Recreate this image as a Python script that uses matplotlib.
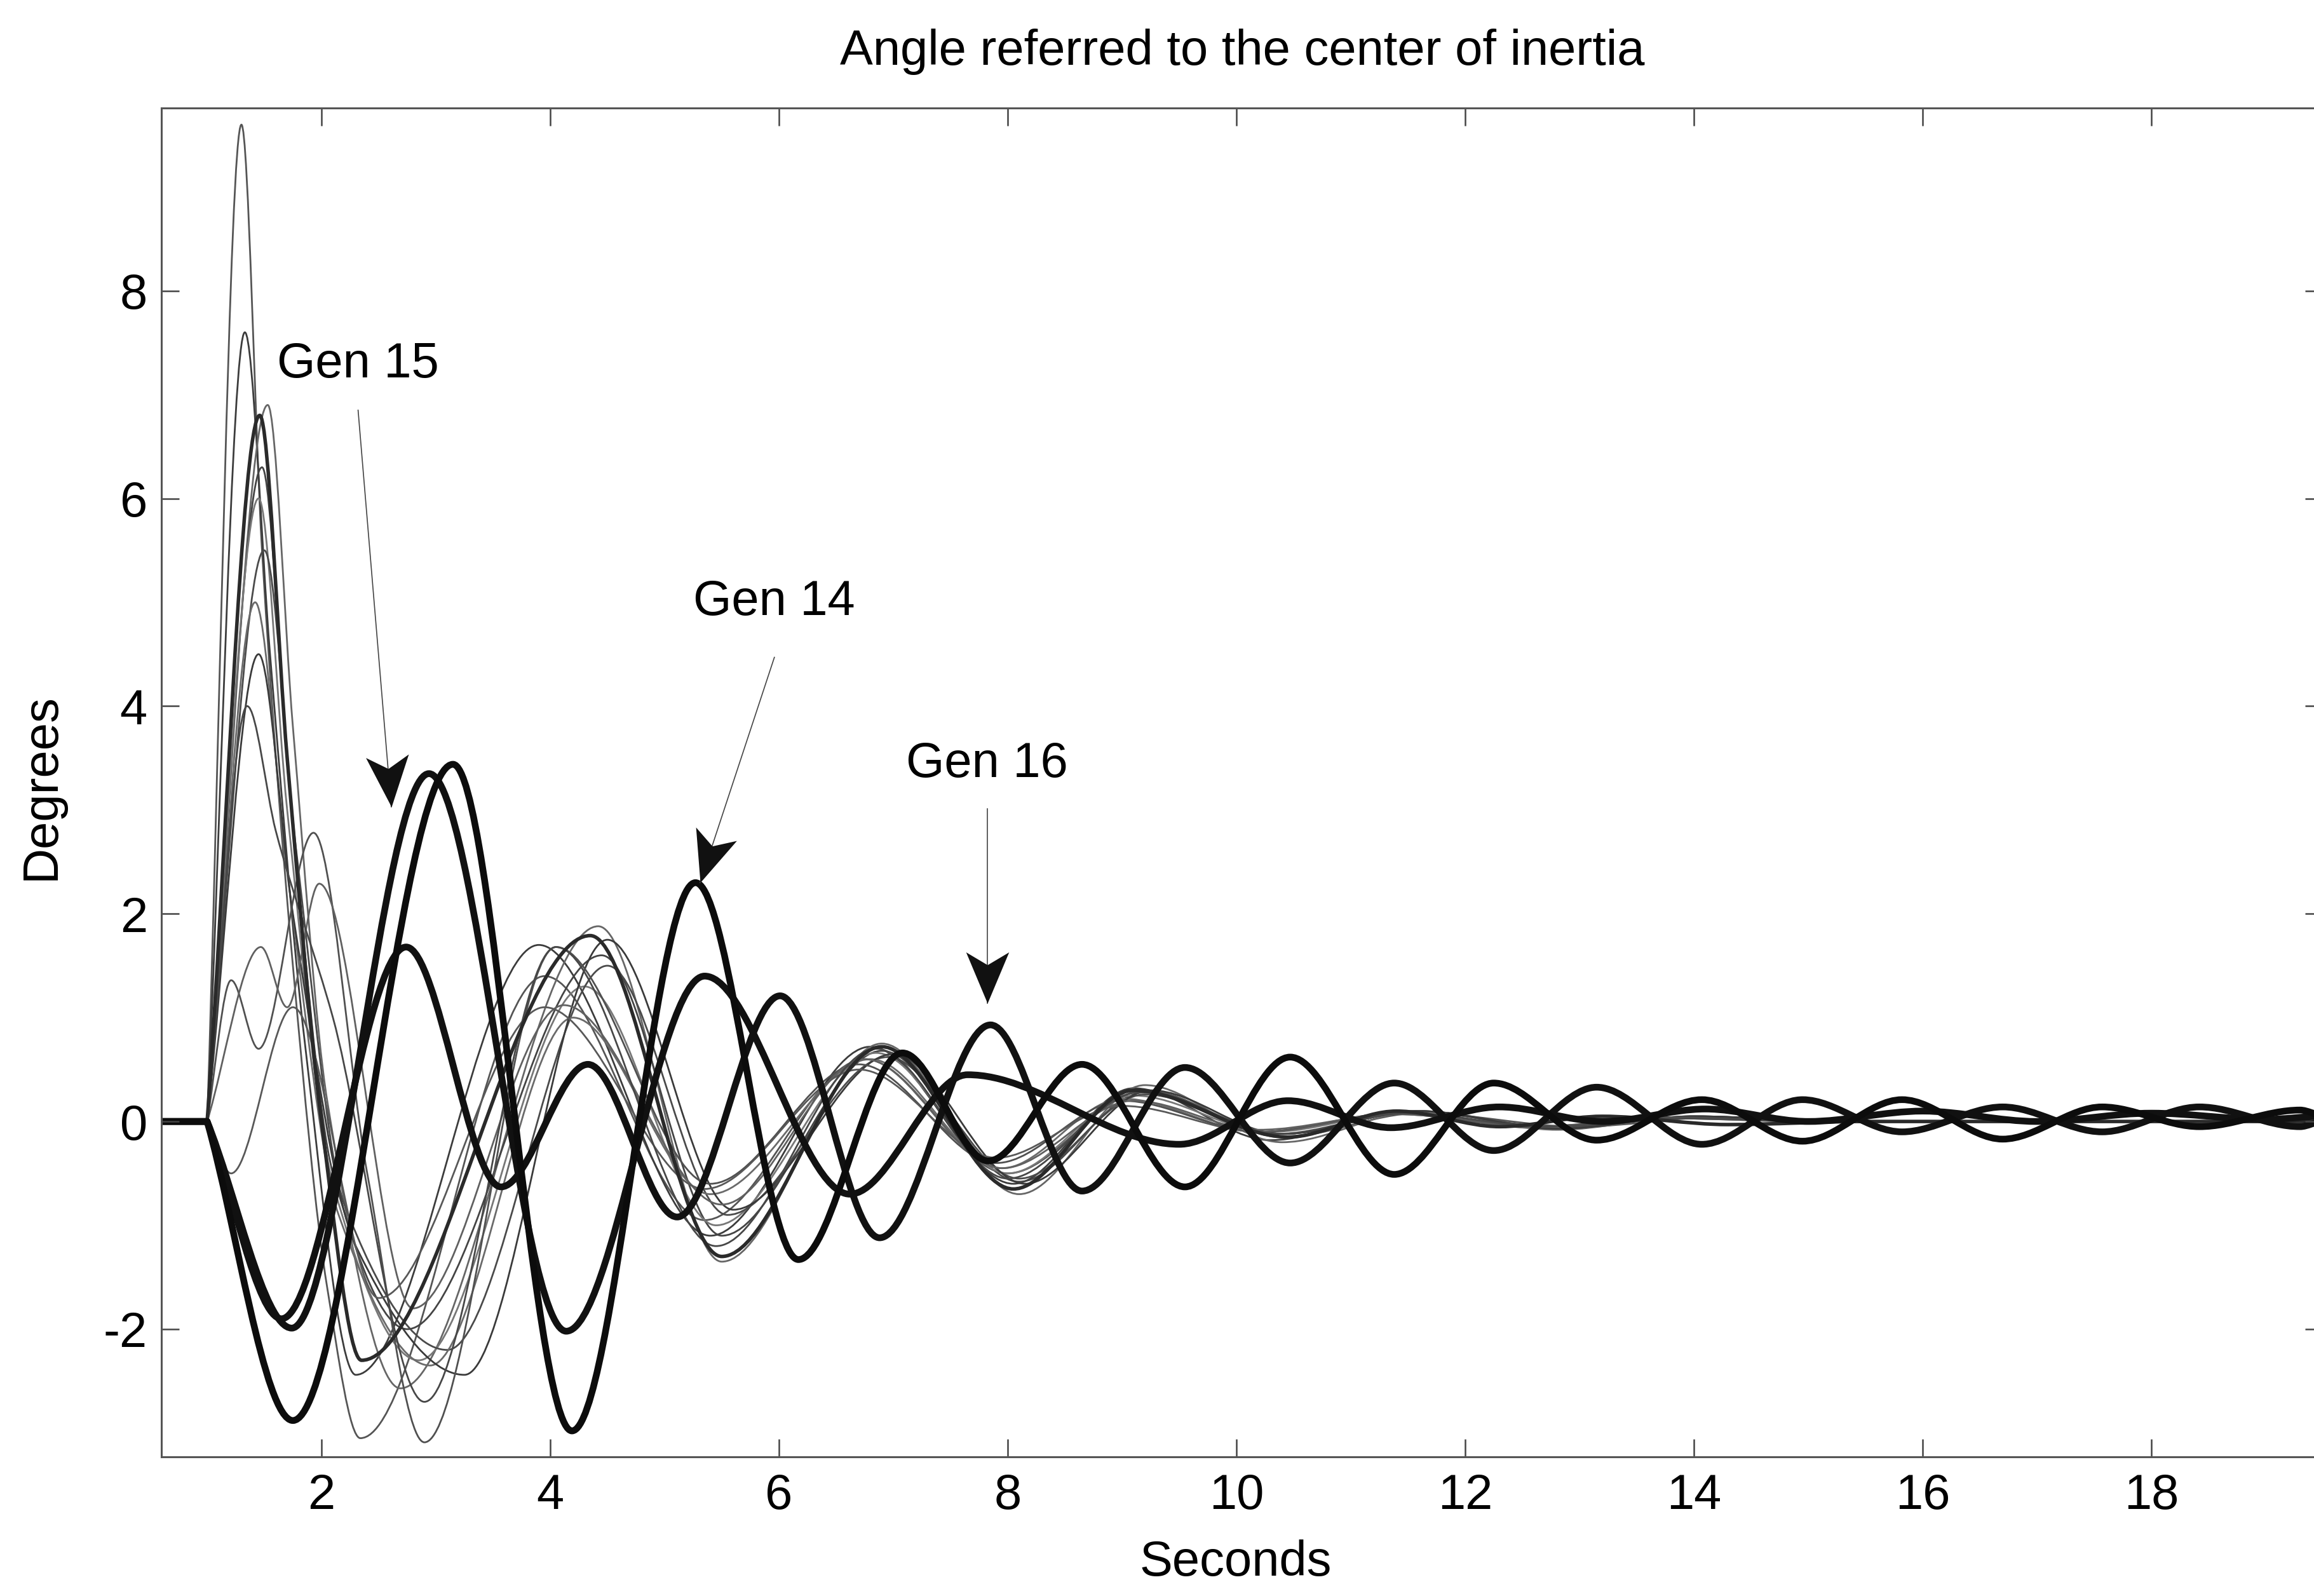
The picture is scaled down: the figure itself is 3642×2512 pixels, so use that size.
import numpy as np
import matplotlib
matplotlib.use("Agg")
import matplotlib.pyplot as plt
from matplotlib.path import Path
from matplotlib.patches import PathPatch
from matplotlib.markers import MarkerStyle
from matplotlib.transforms import Affine2D

plt.rcParams['font.family'] = ['Liberation Sans', 'DejaVu Sans']
plt.rcParams['axes.unicode_minus'] = False

# Rotor angle swings, read at the turning points (seconds, degrees)
gen14_t = [0.6, 1.0, 1.75, 3.15, 4.19, 5.27, 6.17, 7.08, 7.83, 8.65, 9.55, 10.47, 11.38,
           12.25, 13.15, 14.07, 14.95, 15.82, 16.70, 17.57, 18.42, 19.30, 19.5]
gen14_v = [0, 0, -2.88, 3.44, -2.98, 2.30, -1.33, 0.66, -0.38, 0.55, -0.63, 0.62, -0.51,
           0.37, -0.18, 0.21, -0.19, 0.21, -0.17, 0.14, -0.05, 0.11, 0.06]

gen15_t = [0.6, 1.0, 1.74, 2.94, 4.14, 5.35, 6.62, 7.65, 9.5, 10.45, 11.35, 12.3, 13.2,
           14.1, 15.0, 16.0, 17.0, 18.0, 19.0, 19.5]
gen15_v = [0, 0, -1.99, 3.35, -2.02, 1.40, -0.70, 0.45, -0.22, 0.20, -0.06, 0.14, 0.0,
           0.12, 0.0, 0.10, 0.0, 0.08, 0.02, 0.05]

gen16_t = [0.6, 1.0, 1.65, 2.74, 3.57, 4.33, 5.11, 6.01, 6.88, 7.85, 8.65, 9.55, 10.47,
           11.38, 12.25, 13.15, 14.07, 14.95, 15.82, 16.70, 17.57, 18.42, 19.30, 19.5]
gen16_v = [0, 0, -1.90, 1.68, -0.63, 0.55, -0.92, 1.21, -1.12, 0.93, -0.67, 0.52, -0.40,
           0.37, -0.28, 0.33, -0.22, 0.21, -0.10, 0.14, -0.10, 0.14, -0.05, 0.0]

# medium trace inside the first-swing group
gen_mid_t = [0.6, 1.0, 1.46, 1.7, 2.0, 2.35, 4.35, 5.5, 6.9, 8.05, 9.1, 10.45, 11.4, 12.3,
             13.2, 14.3, 15.5, 19.5]
gen_mid_v = [0, 0, 6.8, 3.5, 0.0, -2.3, 1.79, -1.3, 0.72, -0.65, 0.3, -0.15, 0.1, -0.05,
             0.05, -0.03, 0, 0]

# remaining machines (thin traces)
other_t = [
    [0.6, 1.0, 1.30, 1.48, 1.75, 2.05, 2.34, 3.95, 5.35, 6.75, 8.0, 9.2, 10.4, 11.6, 13.0, 14.2, 15.5, 19.5],
    [0.6, 1.0, 1.33, 1.55, 1.85, 2.30, 3.9, 5.4, 6.8, 8.05, 9.1, 10.3, 11.5, 12.8, 14.0, 15.3, 19.5],
    [0.6, 1.0, 1.53, 1.75, 2.05, 2.69, 4.42, 5.5, 6.9, 8.1, 9.2, 10.4, 11.6, 12.8, 14.0, 15.3, 19.5],
    [0.6, 1.0, 1.48, 1.72, 2.1, 2.75, 4.45, 5.5, 6.9, 8.1, 9.2, 10.4, 11.6, 12.8, 14.0, 15.3, 19.5],
    [0.6, 1.0, 1.45, 1.7, 2.1, 2.85, 4.3, 5.45, 6.85, 8.0, 9.1, 10.3, 11.5, 12.7, 13.9, 15.2, 19.5],
    [0.6, 1.0, 1.50, 1.78, 2.2, 3.1, 4.5, 5.55, 6.95, 8.1, 9.2, 10.4, 11.6, 12.8, 14.0, 15.3, 19.5],
    [0.6, 1.0, 1.42, 1.7, 2.15, 2.95, 4.2, 5.4, 6.8, 7.95, 9.0, 10.2, 11.4, 12.6, 13.8, 15.0, 19.5],
    [0.6, 1.0, 1.45, 1.75, 2.3, 3.25, 4.5, 5.6, 7.0, 8.15, 9.25, 10.4, 11.6, 12.8, 14.0, 15.3, 19.5],
    [0.6, 1.0, 1.21, 1.45, 1.93, 2.4, 2.9, 4.05, 5.4, 6.7, 7.9, 9.0, 10.2, 11.4, 12.6, 13.8, 15.0, 19.5],
    [0.6, 1.0, 1.47, 1.70, 1.98, 2.8, 4.12, 5.5, 6.75, 7.95, 9.1, 10.2, 11.4, 12.6, 13.8, 15.0, 19.5],
    [0.6, 1.0, 1.21, 1.75, 2.5, 3.95, 5.35, 6.7, 7.9, 9.0, 10.2, 11.4, 12.6, 13.8, 15.0, 19.5],
    [0.6, 1.0, 1.35, 1.6, 2.1, 2.9, 4.05, 5.45, 6.85, 8.0, 9.15, 10.35, 11.5, 12.7, 13.9, 15.2, 19.5],
]
other_v = [
    [0, 0, 9.6, 5.5, 1.5, -1.6, -3.05, 1.40, -0.95, 0.60, -0.50, 0.30, -0.15, 0.08, -0.05, 0.04, 0, 0],
    [0, 0, 7.6, 4.5, 0.8, -2.44, 1.70, -1.10, 0.72, -0.60, 0.32, -0.18, 0.10, -0.05, 0.04, 0, 0],
    [0, 0, 6.9, 3.8, 0.2, -2.57, 1.88, -1.35, 0.75, -0.70, 0.35, -0.2, 0.1, -0.08, 0.05, 0, 0],
    [0, 0, 6.3, 3.2, -0.5, -2.0, 1.60, -1.10, 0.68, -0.58, 0.28, -0.12, 0.1, -0.07, 0.05, 0, 0],
    [0, 0, 6.0, 3.0, -0.6, -2.3, 1.30, -1.0, 0.66, -0.5, 0.25, -0.1, 0.09, -0.07, 0.04, 0, 0],
    [0, 0, 5.5, 2.6, -0.8, -2.2, 1.5, -0.9, 0.62, -0.55, 0.26, -0.12, 0.1, -0.06, 0.04, 0, 0],
    [0, 0, 5.0, 2.4, -0.9, -2.35, 1.0, -0.7, 0.6, -0.45, 0.22, -0.1, 0.08, -0.06, 0.04, 0, 0],
    [0, 0, 4.5, 2.0, -1.2, -2.44, 1.75, -0.85, 0.65, -0.6, 0.3, -0.12, 0.1, -0.07, 0.05, 0, 0],
    [0, 0, 1.36, 0.7, 2.78, -0.5, -3.09, 1.68, -0.6, 0.55, -0.4, 0.2, -0.1, 0.08, -0.05, 0.04, 0, 0],
    [0, 0, 1.68, 1.1, 2.29, -1.8, 1.12, -0.8, 0.6, -0.45, 0.2, -0.08, 0.07, -0.05, 0.03, 0, 0],
    [0, 0, -0.5, 1.1, -1.7, 1.1, -0.65, 0.5, -0.35, 0.15, -0.1, 0.07, -0.05, 0.03, 0, 0],
    [0, 0, 4.0, 2.8, 1.0, -2.7, 1.68, -1.2, 0.7, -0.55, 0.28, -0.12, 0.08, -0.05, 0.03, 0, 0],
]
other_colors = ['#555555', '#3c3c3c', '#666666', '#444444', '#777777', '#4a4a4a',
                '#6a6a6a', '#3a3a3a', '#505050', '#606060', '#585858', '#474747']


def swing_path(ts, vs):
    """Smooth Bezier path through the turning points (flat tangent at peaks)."""
    ts = np.asarray(ts, float)
    vs = np.asarray(vs, float)
    h = np.diff(ts)
    d = np.diff(vs) / h
    m_in = np.zeros_like(ts)
    m_out = np.zeros_like(ts)
    for i in range(1, len(ts) - 1):
        if abs(d[i - 1]) < 1e-9:
            m_out[i] = d[i]      # sharp departure after the fault
        elif d[i - 1] * d[i] > 0:
            w1 = 2 * h[i] + h[i - 1]
            w2 = h[i] + 2 * h[i - 1]
            m_in[i] = m_out[i] = (w1 + w2) / (w1 / d[i - 1] + w2 / d[i])
    verts = [(ts[0], vs[0])]
    codes = [Path.MOVETO]
    for i in range(len(ts) - 1):
        k = h[i] / 3
        verts += [(ts[i] + k, vs[i] + m_out[i] * k),
                  (ts[i + 1] - k, vs[i + 1] - m_in[i + 1] * k),
                  (ts[i + 1], vs[i + 1])]
        codes += [Path.CURVE4] * 3
    return Path(verts, codes)


def draw_swing(ax, ts, vs, color, lw):
    ax.add_patch(PathPatch(swing_path(ts, vs), fill=False, edgecolor=color, lw=lw,
                           capstyle='round', joinstyle='round'))


fig = plt.figure(figsize=(18.21, 12.56), dpi=200)
ax = fig.add_axes([0.06974, 0.08718, 0.93410, 0.84514])
ax.set_xlim(0.6, 19.5)
ax.set_ylim(-3.23, 9.76)

for ts, vs, c in zip(other_t, other_v, other_colors):
    draw_swing(ax, ts, vs, c, 1.0)

draw_swing(ax, gen_mid_t, gen_mid_v, '#2a2a2a', 2.0)
draw_swing(ax, gen15_t, gen15_v, '#111111', 3.8)
draw_swing(ax, gen16_t, gen16_v, '#111111', 3.8)
draw_swing(ax, gen14_t, gen14_v, '#0c0c0c', 3.8)

ax.set_xticks([2, 4, 6, 8, 10, 12, 14, 16, 18])
ax.set_yticks([-2, 0, 2, 4, 6, 8])
ax.tick_params(direction='in', top=True, right=True, length=10, width=0.9,
               labelsize=28, color='#444444')
ax.tick_params(axis='x', pad=9)
ax.tick_params(axis='y', pad=8)
for s in ax.spines.values():
    s.set_color('#555555')
    s.set_linewidth(1.1)

ax.set_title('Angle referred to the center of inertia', fontsize=28, y=1.0418,
             va='center', pad=0)
ax.set_xlabel('Seconds', fontsize=28)
ax.xaxis.set_label_coords(0.497, -0.0785)
ax.xaxis.label.set_va('center')
ax.set_ylabel('Degrees', fontsize=28)
ax.yaxis.set_label_coords(-0.0556, 0.497)
ax.yaxis.label.set_va('center')

# stealth-style arrow head, tip at the origin pointing along +x
head_path = Path([(0, 0), (-1, 0.42), (-0.75, 0), (-1, -0.42), (0, 0)],
                 [Path.MOVETO, Path.LINETO, Path.LINETO, Path.LINETO, Path.CLOSEPOLY])


def label_arrow(text, tx, ty, t0, v0, t1, v1):
    ax.text(tx, ty, text, fontsize=28, ha='center', va='center')
    ax.plot([t0, t1], [v0, v1], color='#444444', lw=0.6)
    p0 = ax.transData.transform((t0, v0))
    p1 = ax.transData.transform((t1, v1))
    ang = np.degrees(np.arctan2(p1[1] - p0[1], p1[0] - p0[0]))
    head = MarkerStyle(head_path, transform=Affine2D().rotate_deg(ang))
    ax.plot([t1], [v1], marker=head, ms=58, color='#111111', mew=0, zorder=5)


label_arrow('Gen 15', 2.32, 7.29, 2.32, 6.85, 2.61, 3.03)
label_arrow('Gen 14', 5.96, 5.00, 5.96, 4.47, 5.31, 2.30)
label_arrow('Gen 16', 7.82, 3.44, 7.82, 3.01, 7.82, 1.14)

fig.savefig('out.png', dpi=200, facecolor='white')
